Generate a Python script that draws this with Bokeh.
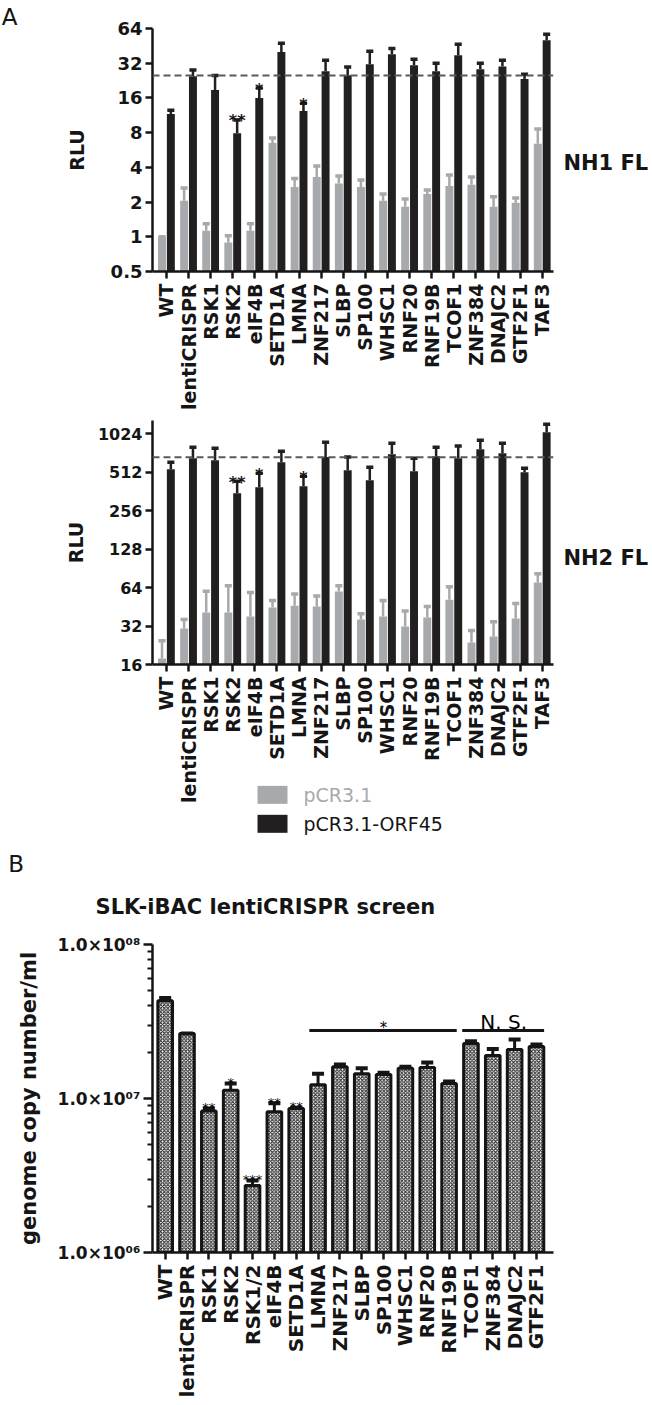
import math
from bokeh.plotting import figure
from bokeh.models import (FixedTicker, Label, Span, Range1d)
from bokeh.layouts import column
from bokeh.embed import file_html
from bokeh.resources import INLINE
from bokeh.core.properties import value

FONT = "DejaVu Sans"

# ---------------- data ----------------
cats_a = ["WT", "lentiCRISPR", "RSK1", "RSK2", "eIF4B", "SETD1A", "LMNA", "ZNF217",
          "SLBP", "SP100", "WHSC1", "RNF20", "RNF19B", "TCOF1", "ZNF384", "DNAJC2",
          "GTF2F1", "TAF3"]

nh1_ctrl = [1.0, 2.05, 1.13, 0.89, 1.13, 6.5, 2.7, 3.3, 2.9, 2.7, 2.05, 1.82, 2.35, 2.76, 2.82, 1.82, 1.97, 6.4]
nh1_ctrl_sem = [0.0, 0.6, 0.17, 0.13, 0.17, 0.7, 0.5, 0.8, 0.47, 0.4, 0.3, 0.31, 0.2, 0.68, 0.48, 0.4, 0.2, 2.2]
nh1_orf = [11.6, 24.7, 18.7, 7.9, 16.0, 40.0, 12.3, 27.3, 25.2, 31.4, 38.3, 30.8, 27.3, 37.5, 28.4, 30.0, 23.3, 50.6]
nh1_orf_sem = [0.9, 3.3, 6.3, 2.4, 3.5, 7.6, 2.1, 6.7, 4.4, 9.2, 4.7, 3.8, 4.7, 9.3, 3.6, 4.0, 2.4, 6.4]
nh1_ref = 25.0
nh1_sig = ["", "", "", "**", "*", "", "*", "", "", "", "", "", "", "", "", "", "", ""]
nh1_ticks = [0.5, 1, 2, 4, 8, 16, 32, 64]

nh2_ctrl = [17.8, 30.6, 40.8, 40.8, 38.0, 44.6, 46.2, 45.5, 59.7, 36.0, 38.0, 31.7, 37.3, 51.5, 23.8, 26.5, 36.6, 70.0]
nh2_ctrl_sem = [6.8, 5.4, 19.2, 25.2, 20.5, 6.1, 10.8, 9.5, 6.3, 4.0, 12.7, 10.3, 8.2, 13.5, 5.7, 8.1, 11.4, 12.0]
nh2_orf = [541, 659, 635, 350, 390, 613, 398, 672, 530, 443, 708, 522, 684, 659, 776, 720, 512, 1050]
nh2_orf_sem = [72, 144, 153, 85, 112, 134, 78, 206, 142, 117, 154, 137, 119, 161, 134, 142, 38, 165]
nh2_ref = 670.0
nh2_sig = ["", "", "", "**", "*", "", "*", "", "", "", "", "", "", "", "", "", "", ""]
nh2_ticks = [16, 32, 64, 128, 256, 512, 1024]

series_names = ["pCR3.1", "pCR3.1-ORF45"]

cats_b = ["WT", "lentiCRISPR", "RSK1", "RSK2", "RSK1/2", "eIF4B", "SETD1A", "LMNA", "ZNF217",
          "SLBP", "SP100", "WHSC1", "RNF20", "RNF19B", "TCOF1", "ZNF384", "DNAJC2", "GTF2F1"]
copies = [4.32e7, 2.64e7, 8.3e6, 1.13e7, 2.72e6, 8.2e6, 8.6e6, 1.23e7, 1.61e7, 1.45e7,
          1.43e7, 1.57e7, 1.59e7, 1.25e7, 2.28e7, 1.9e7, 2.08e7, 2.18e7]
copies_sem = [1.8e6, 0.0, 3e5, 1.2e6, 2.1e5, 1.1e6, 1e5, 2.2e6, 5e5, 1.2e6,
              4e5, 4e5, 1.2e6, 4e5, 7e5, 2.0e6, 3.4e6, 6e5]
sig_b = ["", "", "**", "*", "***", "**", "**", "", "", "", "", "", "", "", "", "", "", ""]
groups_b = [("*", 7, 13), ("N. S.", 14, 17)]
ticks_b = [1e6, 1e7, 1e8]
tick_labels_b = ["1.0×10⁰⁶", "1.0×10⁰⁷", "1.0×10⁰⁸"]

GRAY = "#a8a9ad"
BLACK = "#221f20"
INK = "#151515"


def style_axes(p, xlab_size, ylab_size):
    for ax in (p.xaxis[0], p.yaxis[0]):
        ax.axis_line_width = 2.5
        ax.axis_line_color = INK
        ax.major_tick_line_width = 2.5
        ax.major_tick_line_color = INK
        ax.major_tick_in = 0
        ax.major_tick_out = 7
        ax.major_label_text_font = FONT
        ax.major_label_text_font_style = "bold"
        ax.major_label_text_color = INK
        ax.axis_label_text_font = FONT
        ax.axis_label_text_font_style = "bold"
        ax.axis_label_text_color = INK
    p.xaxis.major_label_text_font_size = xlab_size
    p.yaxis.major_label_text_font_size = ylab_size
    p.xgrid.grid_line_color = None
    p.ygrid.grid_line_color = None
    p.outline_line_color = None


def side_label(p, side, **kw):
    """Text placed in data units but hosted in a side panel, so it is not clipped."""
    kw.setdefault("text_font", FONT)
    kw.setdefault("text_color", INK)
    p.add_layout(Label(**kw), side)


def panel_a(ctrl, ctrl_sem, orf, orf_sem, ref, sig, ticks, y_lo, y_hi, height,
            top, bottom, name, name_y, ytick_size, ylab_standoff):
    p = figure(width=652, height=height, y_axis_type="log",
               x_range=Range1d(-0.63, 17.51), y_range=Range1d(y_lo, y_hi),
               output_backend="svg", toolbar_location=None,
               min_border_left=152, min_border_right=99,
               min_border_top=top, min_border_bottom=bottom)
    n = len(cats_a)
    xs = list(range(n))
    xg = [i - 0.2 for i in xs]
    xb = [i + 0.2 for i in xs]
    p.vbar(x=xg, top=ctrl, bottom=y_lo, width=0.36, fill_color=GRAY, line_color=None)
    p.vbar(x=xb, top=orf, bottom=y_lo, width=0.36, fill_color=BLACK, line_color=None)
    for xx, m, s, col in ((xg, ctrl, ctrl_sem, GRAY), (xb, orf, orf_sem, BLACK)):
        up = [a + b for a, b in zip(m, s)]
        p.segment(x0=xx, y0=m, x1=xx, y1=up, line_color=col, line_width=2.5)
        p.rect(x=xx, y=up, width=0.32, height=3.5, height_units="screen",
               fill_color=col, line_color=None)
    p.add_layout(Span(location=ref, dimension="width", line_color="#5a5a5a",
                      line_dash="7 4", line_width=2))
    sx = [xb[i] for i in xs if sig[i]]
    sy = [orf[i] + orf_sem[i] for i in xs if sig[i]]
    st = [sig[i] for i in xs if sig[i]]
    p.text(x=sx, y=sy, text=st, text_align="center", text_baseline="alphabetic",
           text_font=value(FONT), text_font_size="16px", text_font_style="bold",
           text_color=INK, y_offset=1)
    style_axes(p, "19px", ytick_size)
    p.xaxis.ticker = FixedTicker(ticks=xs)
    p.xaxis.major_label_overrides = {i: c for i, c in enumerate(cats_a)}
    p.xaxis.major_label_orientation = math.pi / 2
    p.xaxis.major_label_standoff = 5
    p.yaxis.ticker = FixedTicker(ticks=ticks, minor_ticks=[])
    p.yaxis.major_label_overrides = {t: ("%g" % t) for t in ticks}
    p.yaxis.major_label_standoff = 3
    p.yaxis.minor_tick_line_color = None
    p.yaxis.axis_label = "RLU"
    p.yaxis.axis_label_text_font_size = "19px"
    p.yaxis.axis_label_standoff = ylab_standoff
    side_label(p, "right", x=17.96, y=name_y, text=name, text_font_style="bold",
               text_font_size="21px", text_baseline="middle")
    return p


# ---------------- panel A, NH1 ----------------
p1 = panel_a(nh1_ctrl, nh1_ctrl_sem, nh1_orf, nh1_orf_sem, nh1_ref, nh1_sig,
             nh1_ticks, 0.5, 64, 412, 28, 141, "NH1 FL", 4.37, "18px", 20)
side_label(p1, "left", x=-7.45, y=80.0, text="A", text_font_size="23px",
           text_baseline="alphabetic")

# ---------------- panel A, NH2 (+ legend and "B") ----------------
p2 = panel_a(nh2_ctrl, nh2_ctrl_sem, nh2_orf, nh2_orf_sem, nh2_ref, nh2_sig,
             nh2_ticks, 16, 1300, 468, 8, 216, "NH2 FL", 108.9, "16px", 8)
# legend: colour swatches (background-filled blank labels) + texts
side_label(p2, "left", x=4.12, y=1.527, text="\u2003\u2003", text_font_size="15px",
           text_baseline="middle", background_fill_color=GRAY)
side_label(p2, "left", x=4.12, y=0.906, text="\u2003\u2003", text_font_size="15px",
           text_baseline="middle", background_fill_color=BLACK)
side_label(p2, "below", x=6.2, y=1.527, text=series_names[0], text_font_size="19px",
           text_baseline="middle", text_color=GRAY)
side_label(p2, "below", x=6.2, y=0.906, text=series_names[1], text_font_size="19px",
           text_baseline="middle", text_color=INK)
side_label(p2, "below", x=-7.15, y=0.437, text="B", text_font_size="23px",
           text_baseline="alphabetic")

# ---------------- panel B ----------------
p3 = figure(width=652, height=525, y_axis_type="log",
            x_range=Range1d(-0.58, 17.78), y_range=Range1d(1e6, 1e8),
            output_backend="svg", toolbar_location=None,
            min_border_left=150, min_border_right=30, min_border_top=64,
            min_border_bottom=153)
nb = len(cats_b)
xsb = list(range(nb))
p3.vbar(x=xsb, top=copies, bottom=1e6, width=0.67, fill_color="white",
        line_color=INK, line_width=3, hatch_pattern="diagonal_cross",
        hatch_color="#222222", hatch_scale=3.6, hatch_weight=1.1)
upb = [a + b for a, b in zip(copies, copies_sem)]
p3.segment(x0=xsb, y0=copies, x1=xsb, y1=upb, line_color=INK, line_width=3)
p3.rect(x=xsb, y=upb, width=0.55, height=4, height_units="screen",
        fill_color=INK, line_color=None)
sxb = [i for i in xsb if sig_b[i]]
syb = [upb[i] for i in xsb if sig_b[i]]
stb = [sig_b[i] for i in xsb if sig_b[i]]
p3.text(x=sxb, y=syb, text=stb, text_align="center", text_baseline="alphabetic",
        text_font=value(FONT), text_font_size="13px", text_color="#000000", y_offset=-1)
grp_y = 2.76e7
for lab, i0, i1 in groups_b:
    p3.segment(x0=[i0 - 0.4], y0=[grp_y], x1=[i1 + 0.35], y1=[grp_y],
               line_color=INK, line_width=3)
    big = len(lab) > 1
    p3.text(x=[(i0 + i1) / 2], y=[grp_y], text=[lab], text_align="center",
            text_baseline="alphabetic", text_font=value(FONT),
            text_font_size=("20px" if big else "15px"),
            text_color="#000000", y_offset=(-9 if big else -3))
style_axes(p3, "20px", "17px")
p3.xaxis.ticker = FixedTicker(ticks=xsb)
p3.xaxis.major_label_overrides = {i: c for i, c in enumerate(cats_b)}
p3.xaxis.major_label_orientation = math.pi / 2
p3.xaxis.major_label_standoff = 5
p3.yaxis.ticker = FixedTicker(ticks=ticks_b,
                              minor_ticks=[m * 10 ** e for e in (6, 7) for m in range(2, 10)])
p3.yaxis.major_label_overrides = {t: l for t, l in zip(ticks_b, tick_labels_b)}
p3.yaxis.minor_tick_line_width = 2
p3.yaxis.minor_tick_line_color = INK
p3.yaxis.minor_tick_in = 0
p3.yaxis.minor_tick_out = 5
p3.yaxis.major_tick_out = 9
p3.yaxis.major_label_standoff = 3
p3.yaxis.axis_label = "genome copy number/ml"
p3.yaxis.axis_label_text_font_size = "21px"
p3.yaxis.axis_label_standoff = 14
side_label(p3, "above", x=4.59, y=1.75e8, text="SLK-iBAC lentiCRISPR screen",
           text_align="center", text_font_style="bold", text_font_size="21px",
           text_baseline="alphabetic")

layout = column(p1, p2, p3, spacing=0)
open("out.html", "w").write(file_html(layout, INLINE))
